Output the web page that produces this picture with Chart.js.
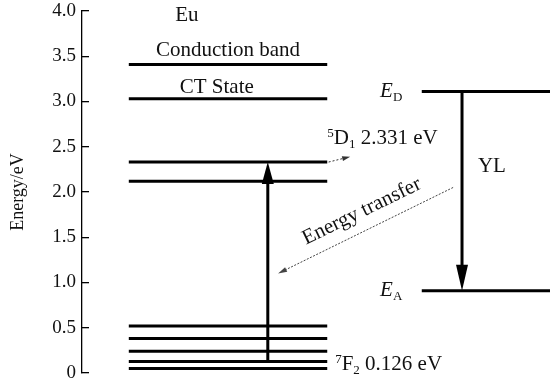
<!DOCTYPE html>
<html>
<head>
<meta charset="utf-8">
<script src="https://cdn.jsdelivr.net/npm/chart.js@4.4.1/dist/chart.umd.min.js"></script>
<style>
  html, body { margin: 0; padding: 0; background: #fff; }
</style>
</head>
<body>
<canvas id="levelChart" width="550" height="384"></canvas>
<script>
// energy axis
const yTicks = [0, 0.5, 1.0, 1.5, 2.0, 2.5, 3.0, 3.5, 4.0];
const yTickLabels = ['0', '0.5', '1.0', '1.5', '2.0', '2.5', '3.0', '3.5', '4.0'];

// Eu levels (eV)
const euLevels = [3.41, 3.03, 2.331, 2.12, 0.52, 0.38, 0.24, 0.126, 0.05];
const euSpan = [1.0, 5.24];

// defect levels E_D, E_A (eV)
const defectLevels = [3.11, 0.91];
const defectSpan = [7.26, 10];

// arrows, head at the second point
const excitationX = [3.97, 3.97];
const excitationY = [0.126, 2.331];
const ylX = [8.12, 8.12];
const ylY = [3.11, 0.91];
const emitX = [5.27, 5.73];
const emitY = [2.331, 2.39];
const transferX = [7.93, 4.19];
const transferY = [2.05, 1.10];

// text labels: ^ superscript, _ subscript, * toggles italic
const labelText = ['Eu', 'Conduction band', 'CT State', '^5D_1 2.331 eV', '^7F_2 0.126 eV', '*E*_D', '*E*_A', 'YL', 'Energy transfer'];
const labelX = [2.24, 3.12, 2.88, 5.24, 5.41, 6.37, 6.37, 8.46, 6.03];
const labelY = [3.89, 3.50, 3.09, 2.53, 0.03, 3.05, 0.85, 2.22, 1.73];

const labelAlign = ['center', 'center', 'center', 'left', 'left', 'left', 'left', 'left', 'center'];
const labelAngle = [0, 0, 0, 0, 0, 0, 0, 0, -26];

const SERIF = '"Liberation Serif", "Times New Roman", serif';

const line = (xs, ys, extra) => Object.assign({
  data: xs.map((x, i) => ({ x, y: ys[i] })),
  showLine: true,
  borderColor: '#000',
  borderWidth: 3,
  pointRadius: 0,
  fill: false
}, extra || {});

const datasets = [];
euLevels.forEach(e => datasets.push(line(euSpan, euSpan.map(() => e))));
defectLevels.forEach(e => datasets.push(line(defectSpan, defectSpan.map(() => e))));
datasets.push(line(excitationX, excitationY, { head: [22, 12] }));
datasets.push(line(ylX, ylY, { head: [26, 12] }));
datasets.push(line(emitX, emitY, { borderWidth: 1, borderColor: '#333', borderDash: [2, 2], head: [8, 5] }));
datasets.push(line(transferX, transferY, { borderWidth: 1, borderColor: '#444', borderDash: [2, 1.5], head: [9, 5] }));

// arrow heads: cut the shaft under the head, then fill a triangle
function headGeom(meta) {
  const pts = meta.data;
  const a = pts[pts.length - 2], b = pts[pts.length - 1];
  return { b, ang: Math.atan2(b.y - a.y, b.x - a.x) };
}
const arrowHeads = {
  id: 'arrowHeads',
  beforeDatasetDraw(chart, args) {
    const ds = chart.data.datasets[args.index];
    if (!ds.head) return;
    const { b, ang } = headGeom(args.meta);
    const [len, w] = ds.head;
    const c = Math.cos(ang), s = Math.sin(ang);
    const pt = (u, v) => [b.x + u * c - v * s, b.y + u * s + v * c];
    const ctx = chart.ctx;
    ctx.save();
    ctx.beginPath();
    ctx.rect(0, 0, chart.width, chart.height);
    const q = [pt(-len * 0.6, -w), pt(4, -w), pt(4, w), pt(-len * 0.6, w)];
    ctx.moveTo(q[0][0], q[0][1]);
    q.slice(1).forEach(p => ctx.lineTo(p[0], p[1]));
    ctx.closePath();
    ctx.clip('evenodd');
  },
  afterDatasetDraw(chart, args) {
    const ds = chart.data.datasets[args.index];
    if (!ds.head) return;
    const ctx = chart.ctx;
    ctx.restore();
    const { b, ang } = headGeom(args.meta);
    const [len, w] = ds.head;
    ctx.save();
    ctx.translate(b.x, b.y);
    ctx.rotate(ang);
    ctx.beginPath();
    ctx.moveTo(0, 0);
    ctx.lineTo(-len, -w / 2);
    ctx.lineTo(-len, w / 2);
    ctx.closePath();
    ctx.fillStyle = ds.borderColor;
    ctx.fill();
    ctx.restore();
  }
};

function parseRich(str) {
  const segs = [];
  let italic = false;
  for (let i = 0; i < str.length; i++) {
    const c = str[i];
    if (c === '*') { italic = !italic; continue; }
    if (c === '^' || c === '_') {
      segs.push({ t: str[++i], italic: false, shift: c === '^' ? 1 : -1 });
      continue;
    }
    const last = segs[segs.length - 1];
    if (last && last.shift === 0 && last.italic === italic) last.t += c;
    else segs.push({ t: c, italic, shift: 0 });
  }
  return segs;
}

const textLabels = {
  id: 'textLabels',
  afterDraw(chart) {
    const ctx = chart.ctx;
    const xs = chart.scales.x, ys = chart.scales.y;
    const fontOf = seg => (seg.italic ? 'italic ' : '') + (seg.shift ? '13px ' : '21px ') + SERIF;
    labelText.forEach((txt, i) => {
      const segs = parseRich(txt);
      ctx.save();
      ctx.fillStyle = '#111';
      ctx.textBaseline = 'alphabetic';
      ctx.textAlign = 'left';
      let total = 0;
      segs.forEach(sg => { ctx.font = fontOf(sg); sg.w = ctx.measureText(sg.t).width; total += sg.w; });
      ctx.translate(xs.getPixelForValue(labelX[i]), ys.getPixelForValue(labelY[i]));
      ctx.rotate(labelAngle[i] * Math.PI / 180);
      let cx = labelAlign[i] === 'center' ? -total / 2 : 0;
      segs.forEach(sg => {
        ctx.font = fontOf(sg);
        const dy = sg.shift > 0 ? -7 : sg.shift < 0 ? 4 : 0;
        ctx.fillText(sg.t, cx, dy);
        cx += sg.w;
      });
      ctx.restore();
    });
  }
};

new Chart(document.getElementById('levelChart'), {
  type: 'scatter',
  data: { datasets },
  options: {
    responsive: false,
    animation: false,
    events: [],
    layout: { padding: 0 },
    plugins: { legend: { display: false }, tooltip: { enabled: false } },
    scales: {
      x: { type: 'linear', min: 0, max: 10, display: false },
      y: {
        type: 'linear',
        min: 0,
        max: 4,
        afterBuildTicks: s => { s.ticks = yTicks.map(v => ({ value: v })); },
        afterFit: s => {
          s.width = 82;
          s.paddingTop = 11;
          s.paddingBottom = 11;
        },
        border: { display: true, color: '#000', width: 1.3 },
        grid: { drawOnChartArea: false, drawTicks: true, tickLength: -7, color: '#000', lineWidth: 1.3 },
        ticks: {
          padding: 13,
          color: '#111',
          font: { family: SERIF, size: 19 },
          callback: (v, i) => yTickLabels[i]
        },
        title: {
          display: true,
          text: 'Energy/eV',
          color: '#111',
          font: { family: SERIF, size: 18 },
          padding: { top: 7, bottom: 0 }
        }
      }
    }
  },
  plugins: [arrowHeads, textLabels]
});
</script>
</body>
</html>
